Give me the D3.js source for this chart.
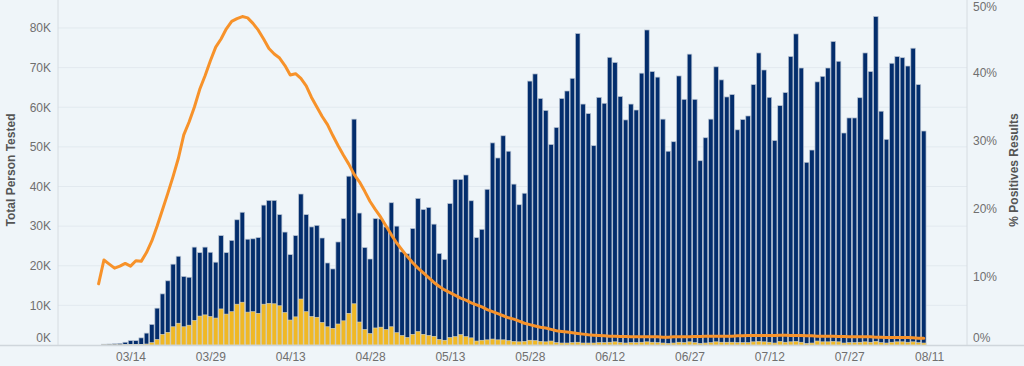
<!DOCTYPE html>
<html><head><meta charset="utf-8">
<script src="https://cdn.jsdelivr.net/npm/d3@7"></script>
<style>
html,body{margin:0;padding:0;background:#eff5f9;}
svg{display:block;font-family:"Liberation Sans",Arial,sans-serif;}
</style></head><body>
<svg id="chart" width="1024" height="366"></svg>
<script>
// ---- data (thousands of persons / percent) ----
const barStartDate = "2020-03-09";   // first bar
const lineStartDate = "2020-03-08";  // first positivity point
const totalTestedK = [
 0.2,0.25,0.3,0.4,0.7,1.1,1.1,1.8,3.0,5.2,
 9.3,12.9,16.2,20.4,22.4,17.3,17.1,24.7,23.3,24.7,
 23.4,20.9,27.6,23.3,26.4,31.6,33.5,26.7,26.8,27.1,
 35.3,36.5,36.5,32.9,28.5,22.8,27.6,38.1,32.9,29.8,
 30.2,27.0,20.7,19.2,26.0,31.9,42.6,57.0,33.3,24.6,
 21.7,31.9,31.8,29.8,35.9,30.0,23.5,23.0,29.4,37.0,
 34.2,34.7,30.5,23.1,21.6,35.7,41.8,41.8,42.9,36.4,
 27.1,29.2,39.3,51.0,47.2,52.8,48.9,40.6,35.4,38.3,
 66.6,68.4,62.2,59.2,50.6,54.9,62.2,64.1,67.3,78.6,
 60.8,58.4,50.3,62.5,61.0,72.6,71.3,62.7,56.8,60.8,
 59.3,68.6,79.5,69.0,67.6,57.0,48.9,51.3,67.9,62.0,
 73.4,62.0,46.5,52.3,57.0,70.2,66.9,62.6,63.2,54.3,
 56.9,57.8,65.7,73.7,69.4,62.5,51.6,60.4,63.7,72.8,
 78.5,69.9,46.1,49.2,66.4,67.8,69.9,76.6,71.6,53.5,
 57.3,57.3,62.4,73.7,69.0,82.9,59.0,51.9,71.1,72.8,
 72.5,70.4,74.9,65.7,54.0
];
const positivesK = [
 0.02,0.03,0.04,0.05,0.08,0.1,0.12,0.15,0.25,0.6,
 1.4,2.7,3.2,4.6,5.5,4.6,5.0,6.2,7.3,7.6,
 7.2,6.8,9.1,7.8,8.4,10.3,10.8,8.3,8.4,8.0,
 10.3,10.5,10.4,9.9,8.2,6.3,7.1,11.6,8.4,7.2,
 7.0,5.7,4.6,4.2,5.3,6.1,8.0,10.4,5.8,3.9,
 2.9,4.3,4.5,3.9,4.6,3.1,2.4,1.9,2.7,3.4,
 2.7,2.4,2.2,1.4,1.2,1.9,2.1,2.6,2.1,1.8,
 1.0,1.2,1.3,1.5,1.3,1.3,1.1,0.9,0.8,0.9,
 1.2,1.1,0.9,0.8,1.0,0.6,0.5,0.5,0.6,0.7,
 0.5,0.5,0.5,0.6,0.6,0.7,0.8,0.6,0.5,0.6,
 0.6,0.7,0.8,0.7,0.6,0.5,0.4,0.5,0.7,0.6,
 0.8,0.6,0.4,0.5,0.6,0.8,0.7,0.7,0.7,0.6,
 0.6,0.6,0.8,0.9,0.8,0.7,0.5,0.9,0.7,0.8,
 0.9,0.7,0.4,0.5,1.0,0.8,0.8,0.9,0.8,0.5,
 0.6,0.6,0.7,0.8,0.7,0.9,0.6,0.5,0.7,0.8,
 0.8,0.7,0.8,0.6,0.5
];
const positivityPct = [
 9.0,12.5,11.9,11.3,11.6,12.0,11.6,12.4,12.3,13.6,
 15.3,17.5,19.9,22.3,24.8,27.5,30.9,32.8,35.0,37.6,
 39.6,41.8,43.8,45.0,46.5,47.6,48.0,48.3,48.1,47.3,
 46.3,45.0,43.6,42.8,42.2,41.1,39.7,39.9,39.2,38.1,
 36.4,35.0,33.6,32.4,30.8,29.3,27.9,26.6,25.1,24.0,
 22.6,21.1,19.9,18.8,17.5,16.2,15.0,14.0,13.0,12.1,
 11.3,10.6,9.9,9.2,8.6,8.1,7.7,7.3,6.9,6.6,
 6.2,5.9,5.6,5.2,4.9,4.6,4.3,4.0,3.8,3.5,
 3.2,3.0,2.8,2.6,2.5,2.3,2.1,2.0,1.9,1.8,
 1.7,1.6,1.5,1.45,1.4,1.35,1.3,1.3,1.25,1.25,
 1.2,1.2,1.2,1.2,1.2,1.2,1.15,1.15,1.2,1.2,
 1.2,1.2,1.25,1.25,1.3,1.3,1.3,1.3,1.3,1.3,
 1.35,1.35,1.4,1.4,1.4,1.4,1.4,1.4,1.45,1.45,
 1.4,1.4,1.4,1.35,1.35,1.3,1.3,1.3,1.3,1.25,
 1.25,1.2,1.2,1.2,1.2,1.2,1.15,1.15,1.1,1.1,
 1.1,1.1,1.1,1.05,1.0,1.0
];
const xTickLabels = ["03/14","03/29","04/13","04/28","05/13","05/28","06/12","06/27","07/12","07/27","08/11"];
const leftTicksK = [0,10,20,30,40,50,60,70,80];
const rightTicksPct = [0,10,20,30,40,50];
const leftTitle = "Total Person Tested";
const rightTitle = "% Positives Results";

// ---- layout ----
const W = 1024, H = 366;
const plotLeft = 58, plotRight = 967, baseY = 345, topY = 5;
const parse = d3.utcParse("%Y-%m-%d");
const parseTick = d3.utcParse("%Y/%m/%d");
const barStart = parse(barStartDate), lineStart = parse(lineStartDate);
const barDates = totalTestedK.map((_, i) => d3.utcDay.offset(barStart, i));
const lineDates = positivityPct.map((_, i) => d3.utcDay.offset(lineStart, i));
const tickDates = xTickLabels.map(s => parseTick("2020/" + s));

const x = d3.scaleUtc()
  .domain([d3.utcHour.offset(barStart, -207), d3.utcHour.offset(tickDates[tickDates.length-1], 171)])
  .range([plotLeft, plotRight]);
const yL = d3.scaleLinear().domain([0, 85.8]).range([baseY, topY]);
const yR = d3.scaleLinear().domain([0, 50]).range([baseY, topY]);

const svg = d3.select("#chart");
svg.append("rect").attr("width", W).attr("height", H).attr("fill", "#eff5f9");

// gridlines
svg.append("g").selectAll("line").data(leftTicksK.filter(d => d > 0)).join("line")
  .attr("x1", plotLeft).attr("x2", plotRight)
  .attr("y1", d => yL(d)).attr("y2", d => yL(d))
  .attr("stroke", "#e2e9ef").attr("stroke-width", 1);

const pitch = x(d3.utcDay.offset(barStart, 1)) - x(barStart);
const bw = pitch - 0.75;

// total bars
svg.append("g").selectAll("rect").data(totalTestedK).join("rect")
  .attr("x", (d, i) => x(barDates[i]) - bw / 2)
  .attr("y", d => yL(d))
  .attr("width", bw)
  .attr("height", d => baseY - yL(d))
  .attr("fill", "#032d6c")
  .attr("stroke", "#b9c4d3").attr("stroke-width", 0.7);

// positive bars
svg.append("g").selectAll("rect").data(positivesK).join("rect")
  .attr("x", (d, i) => x(barDates[i]) - bw / 2)
  .attr("y", d => yL(d))
  .attr("width", bw)
  .attr("height", d => baseY - yL(d))
  .attr("fill", "#f0b825")
  .attr("stroke", "#d8d6c8").attr("stroke-width", 0.6);

// positivity line
svg.append("path").datum(positivityPct)
  .attr("fill", "none").attr("stroke", "#f7922a").attr("stroke-width", 3)
  .attr("stroke-linejoin", "round").attr("stroke-linecap", "round")
  .attr("d", d3.line().x((d, i) => x(lineDates[i])).y(d => yR(d)));

// axis lines
svg.append("line").attr("x1", 0).attr("x2", W).attr("y1", baseY + 0.5).attr("y2", baseY + 0.5)
  .attr("stroke", "#cfd6dc").attr("stroke-width", 1.5);
svg.append("line").attr("x1", plotLeft).attr("x2", plotLeft).attr("y1", 0).attr("y2", baseY)
  .attr("stroke", "#d6dce1").attr("stroke-width", 1);
svg.append("line").attr("x1", plotRight).attr("x2", plotRight).attr("y1", 0).attr("y2", baseY)
  .attr("stroke", "#d6dce1").attr("stroke-width", 1);

// axes
const styleAxis = g => {
  g.select(".domain").remove();
  g.selectAll("text").attr("fill", "#6f6f6f").attr("font-size", 12)
    .attr("font-family", '"Liberation Sans",Arial,sans-serif');
};
const gL = svg.append("g").attr("transform", `translate(${plotLeft},0)`)
  .call(d3.axisLeft(yL).tickValues(leftTicksK).tickFormat(d => d + "K").tickSize(0).tickPadding(7))
  .call(styleAxis);
gL.selectAll(".tick").filter(d => d === 0).select("text").attr("y", -7);

const gR = svg.append("g").attr("transform", `translate(${plotRight},0)`)
  .call(d3.axisRight(yR).tickValues(rightTicksPct).tickFormat(d => d + "%").tickSize(0).tickPadding(6))
  .call(styleAxis);
gR.selectAll(".tick").filter(d => d === 0).select("text").attr("y", -7);
gR.selectAll(".tick").filter(d => d === 50).select("text").attr("y", 1.5);

const gB = svg.append("g").attr("transform", `translate(0,${baseY})`)
  .call(d3.axisBottom(x).tickValues(tickDates).tickFormat((d, i) => xTickLabels[i]).tickSize(0).tickPadding(7))
  .call(styleAxis);

// titles
svg.append("text").attr("transform", "translate(15,170) rotate(-90)")
  .attr("text-anchor", "middle").attr("font-size", 12).attr("font-weight", "bold")
  .attr("fill", "#555").text(leftTitle);
svg.append("text").attr("transform", "translate(1018,170) rotate(-90)")
  .attr("text-anchor", "middle").attr("font-size", 12).attr("font-weight", "bold")
  .attr("fill", "#555").text(rightTitle);
</script>
</body></html>
